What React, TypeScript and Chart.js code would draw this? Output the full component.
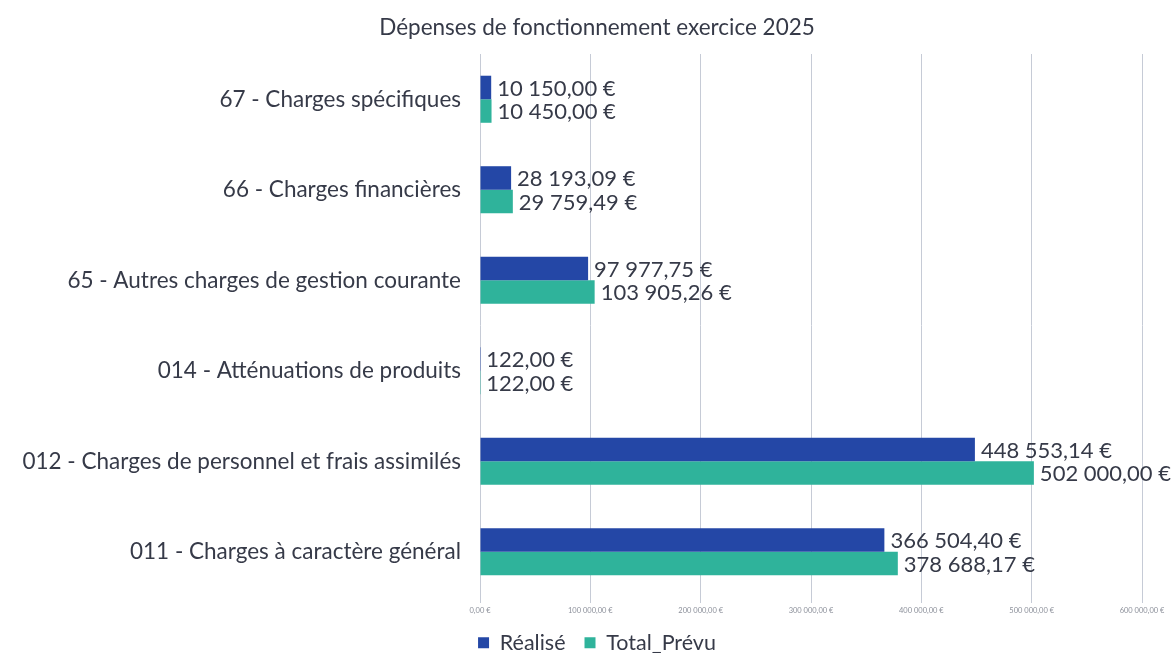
import React, { useEffect, useRef } from "react";
import { Chart, registerables } from "chart.js";

Chart.register(...registerables);

const categories = [
  "67 - Charges spécifiques",
  "66 - Charges financières",
  "65 - Autres charges de gestion courante",
  "014 - Atténuations de produits",
  "012 - Charges de personnel et frais assimilés",
  "011 - Charges à caractère général",
];

const realise = [10150.0, 28193.09, 97977.75, 122.0, 448553.14, 366504.4];
const totalPrevu = [10450.0, 29759.49, 103905.26, 122.0, 502000.0, 378688.17];

const seriesNames = ["Réalisé", "Total_Prévu"];
const title = "Dépenses de fonctionnement exercice 2025";

const FONT = "Lato, 'Open Sans', sans-serif";
const TEXT = "#363a48";

function fmtEuro(v: number): string {
  const fixed = Math.abs(v).toFixed(2);
  const [intPart, dec] = fixed.split(".");
  const grouped = intPart.replace(/\B(?=(\d{3})+(?!\d))/g, " ");
  return (v < 0 ? "-" : "") + grouped + "," + dec + " €";
}

const dataLabelPlugin = {
  id: "dataLabels",
  afterDatasetsDraw(chart: any) {
    const ctx = chart.ctx;
    ctx.save();
    ctx.font = `22px ${FONT}`;
    ctx.fillStyle = TEXT;
    ctx.textAlign = "left";
    ctx.textBaseline = "middle";
    chart.data.datasets.forEach((ds: any, di: number) => {
      const meta = chart.getDatasetMeta(di);
      meta.data.forEach((el: any, i: number) => {
        const v = ds.data[i] as number;
        ctx.fillText(fmtEuro(v), el.x + 6, el.y + 1);
      });
    });
    ctx.restore();
  },
};

// widen the label clip areas so long labels are not cut
const unclipPlugin = {
  id: "unclip",
  afterLayout(chart: any) {
    chart.scales.y.left = 0;
    chart.scales.x.bottom = chart.height;
  },
};

export default function App() {
  const ref = useRef<HTMLCanvasElement>(null);
  useEffect(() => {
    document.body.style.margin = "0";
    const chart = new Chart(ref.current!, {
      type: "bar",
      data: {
        labels: categories,
        datasets: [
          {
            label: seriesNames[0],
            data: realise,
            backgroundColor: "#2447a6",
            categoryPercentage: 0.52,
            barPercentage: 1.0,
          },
          {
            label: seriesNames[1],
            data: totalPrevu,
            backgroundColor: "#2fb39b",
            categoryPercentage: 0.52,
            barPercentage: 1.0,
          },
        ],
      },
      options: {
        indexAxis: "y",
        animation: false,
        responsive: false,
        maintainAspectRatio: false,
        layout: { padding: { left: 52, right: 29, top: 0, bottom: 0 } },
        scales: {
          x: {
            min: 0,
            max: 600000,
            afterFit: (scale: any) => {
              scale.height = 16;
            },
            ticks: {
              stepSize: 100000,
              font: { family: FONT, size: 7.5 },
              color: "#8c909a",
              padding: 3,
              maxRotation: 0,
              callback: (v: any) => fmtEuro(Number(v)),
            },
            grid: {
              color: "#c6cbd6",
              lineWidth: 1,
              drawTicks: true,
              tickLength: 6,
            },
            border: { display: false },
          },
          y: {
            afterFit: (scale: any) => {
              scale.width = 428;
            },
            ticks: {
              font: { family: FONT, size: 22.5 },
              color: TEXT,
              padding: 19,
            },
            grid: { display: false, drawTicks: false },
            border: { display: false },
          },
        },
        plugins: {
          title: {
            display: true,
            text: title,
            color: TEXT,
            font: { family: FONT, size: 22.5, weight: "normal" },
            padding: { top: 14.5, bottom: 12.5 },
          },
          legend: {
            position: "bottom",
            maxHeight: 40,
            labels: {
              color: TEXT,
              font: { family: FONT, size: 21.5 },
              boxWidth: 11,
              boxHeight: 11,
              padding: 19,
            },
          },
          tooltip: { enabled: false },
        },
      },
      plugins: [dataLabelPlugin, unclipPlugin],
    });
    return () => chart.destroy();
  }, []);
  return (
    <div style={{ width: 1171, height: 653, position: "relative" }}>
      <canvas ref={ref} width={1171} height={653} style={{ display: "block" }} />
    </div>
  );
}
